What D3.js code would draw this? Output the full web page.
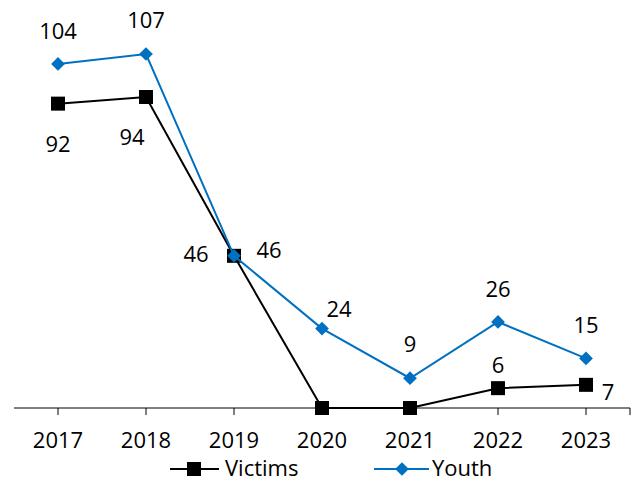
<!DOCTYPE html>
<html><head><meta charset="utf-8">
<script src="https://cdn.jsdelivr.net/npm/d3@7"></script>
<style>body{margin:0;background:#fff}svg{display:block}text{font-family:"Open Sans",sans-serif}</style>
</head><body><svg id="c" width="641" height="483"></svg>
<script>
const years = ["2017","2018","2019","2020","2021","2022","2023"];
const victims = [92, 94, 46, 0, 0, 6, 7];
const youth = [104, 107, 46, 24, 9, 26, 15];
const victimsLabels = ["92","94","46","","","6","7"];
const youthLabels = ["104","107","46","24","9","26","15"];
// label offsets (dx, dy to baseline) relative to point
const victimsLabelOff = [[0,48],[-14,48],[-38,6],[0,0],[0,0],[0,-15],[22,15]];
const youthLabelOff = [[0,-25],[0,-26],[35,2],[17,-12],[0,-26],[0,-25],[0,-25]];

const svg = d3.select("#c");
const x = d3.scaleBand().domain(years).range([14, 630]);
const y = d3.scaleLinear().domain([0, 120]).range([408, 11]);
const cx = d => x(d) + x.bandwidth()/2;
const font = 22;

// axis
const axisG = svg.append("g").attr("transform","translate(0,408)");
axisG.append("line").attr("x1",14).attr("x2",630).attr("stroke","#000").attr("stroke-width",1);
const tickXs = years.map(cx).concat([630]);
axisG.selectAll("line.t").data(tickXs).join("line").attr("class","t")
  .attr("x1",d=>d).attr("x2",d=>d).attr("y1",0).attr("y2",7).attr("stroke","#000");
axisG.selectAll("text").data(years).join("text")
  .attr("x",d=>cx(d)).attr("y",39.5).attr("text-anchor","middle")
  .attr("font-size",font).attr("fill","#000").text(d=>d);

const line = d3.line().x((d,i)=>cx(years[i])).y(d=>y(d));
function series(vals, color, shape, labels, offs){
  const g = svg.append("g");
  g.append("path").datum(vals).attr("d",line).attr("fill","none")
    .attr("stroke",color).attr("stroke-width",2);
  if(shape==="square"){
    g.selectAll("rect").data(vals).join("rect")
      .attr("x",(d,i)=>cx(years[i])-7).attr("y",d=>y(d)-7)
      .attr("width",14).attr("height",14).attr("fill",color);
  } else {
    g.selectAll("path.m").data(vals).join("path").attr("class","m")
      .attr("d",d3.symbol().type(d3.symbolDiamond2).size(120))
      .attr("transform",(d,i)=>`translate(${cx(years[i])},${y(d)})`).attr("fill",color);
  }
  g.selectAll("text").data(vals).join("text")
    .attr("x",(d,i)=>cx(years[i])+offs[i][0]).attr("y",(d,i)=>y(d)+offs[i][1])
    .attr("text-anchor","middle").attr("font-size",font).attr("fill","#000")
    .text((d,i)=>labels[i]);
}
series(victims,"#000000","square",victimsLabels,victimsLabelOff);
series(youth,"#0070C0","diamond",youthLabels,youthLabelOff);

// legend
const leg = svg.append("g").attr("transform","translate(0,469)");
leg.append("line").attr("x1",170).attr("x2",219).attr("stroke","#000").attr("stroke-width",2);
leg.append("rect").attr("x",187).attr("y",-7).attr("width",14).attr("height",14).attr("fill","#000");
leg.append("text").attr("x",225).attr("y",7).attr("font-size",font).text("Victims");
leg.append("line").attr("x1",374).attr("x2",429).attr("stroke","#0070C0").attr("stroke-width",2);
leg.append("path").attr("d",d3.symbol().type(d3.symbolDiamond2).size(120)).attr("transform","translate(402,0)").attr("fill","#0070C0");
leg.append("text").attr("x",432).attr("y",7).attr("font-size",font).text("Youth");
</script></body></html>
